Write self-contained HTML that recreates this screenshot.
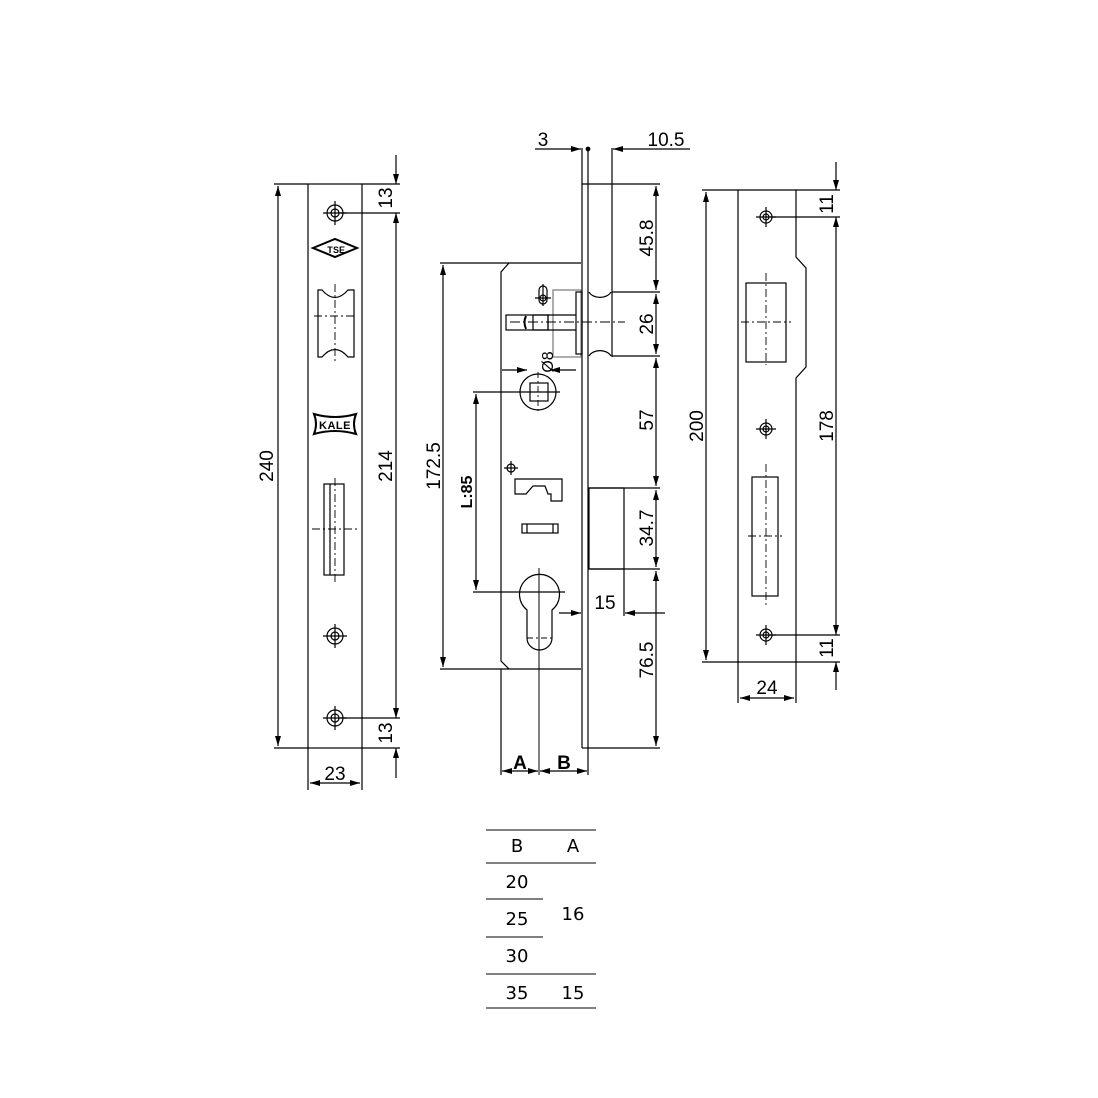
<!DOCTYPE html>
<html><head><meta charset="utf-8"><style>html,body{margin:0;padding:0;background:#fff}svg{display:block}</style></head><body>
<svg width="1098" height="1098" viewBox="0 0 1098 1098" xmlns="http://www.w3.org/2000/svg" font-family="Liberation Sans, sans-serif">
<defs>
<marker id="a" viewBox="0 0 10 6" refX="10" refY="3" markerWidth="10" markerHeight="6" orient="auto-start-reverse" markerUnits="userSpaceOnUse"><path d="M0,0L10,3L0,6z" fill="#000"/></marker>
</defs>
<g stroke="#000" stroke-width="1.2" fill="none">
<rect x="308" y="184" width="54" height="564"/>
<line x1="274" y1="184" x2="308" y2="184"/><line x1="274" y1="748" x2="308" y2="748"/>
<line x1="278" y1="186" x2="278" y2="746" marker-start="url(#a)" marker-end="url(#a)"/>
<line x1="362" y1="184" x2="400" y2="184"/><line x1="340" y1="213" x2="400" y2="213"/>
<line x1="340" y1="718" x2="400" y2="718"/><line x1="362" y1="748" x2="400" y2="748"/>
<line x1="396" y1="155" x2="396" y2="184" marker-end="url(#a)"/>
<line x1="396" y1="213" x2="396" y2="718" marker-start="url(#a)" marker-end="url(#a)"/>
<line x1="396" y1="748" x2="396" y2="778" marker-start="url(#a)"/>
<line x1="308" y1="748" x2="308" y2="790"/><line x1="362" y1="748" x2="362" y2="790"/>
<line x1="310" y1="783" x2="360" y2="783" marker-start="url(#a)" marker-end="url(#a)"/>
<g>
<circle cx="335" cy="213" r="8"/><circle cx="335" cy="213" r="4"/><path d="M323 213h24M335 201v24"/>
<circle cx="335" cy="636" r="8"/><circle cx="335" cy="636" r="4"/><path d="M323 636h24M335 624v24"/>
<circle cx="335" cy="718" r="8"/><circle cx="335" cy="718" r="4"/><path d="M323 718h24M335 706v24"/>
</g>
<path d="M313 248L335 239L357 248L335 257Z" stroke-width="2"/>
<path d="M318 290H322Q335 305 348 290H354V357H348Q335 342 322 357H318Z"/>
<path d="M314 316h42M335 284v80" stroke-dasharray="8 3 2 3" stroke-width="0.9"/>
<path d="M314 414Q335 420 356 414Q352 424 356 434Q335 428 314 434Q318 424 314 414Z" stroke-width="2"/>
<rect x="324" y="484" width="20" height="91"/><line x1="330" y1="484" x2="330" y2="575"/>
<path d="M312 529h46M335 478v104" stroke-dasharray="8 3 2 3" stroke-width="0.9"/>

<line x1="582" y1="148" x2="582" y2="748"/><line x1="588" y1="148" x2="588" y2="748"/>
<line x1="582" y1="748" x2="588" y2="748"/>
<line x1="612" y1="148" x2="612" y2="357"/>
<line x1="582" y1="184" x2="660" y2="184"/>
<line x1="612" y1="292" x2="660" y2="292"/><line x1="612" y1="356" x2="660" y2="356"/>
<line x1="588" y1="488" x2="660" y2="488"/><line x1="588" y1="569" x2="660" y2="569"/>
<line x1="588" y1="748" x2="660" y2="748"/>
<line x1="656" y1="186" x2="656" y2="290" marker-start="url(#a)" marker-end="url(#a)"/>
<line x1="656" y1="294" x2="656" y2="354" marker-start="url(#a)" marker-end="url(#a)"/>
<line x1="656" y1="358" x2="656" y2="486" marker-start="url(#a)" marker-end="url(#a)"/>
<line x1="656" y1="490" x2="656" y2="567" marker-start="url(#a)" marker-end="url(#a)"/>
<line x1="656" y1="571" x2="656" y2="746" marker-start="url(#a)" marker-end="url(#a)"/>
<path d="M589 292A12 9 0 0 0 611 292M589 356A12 9 0 0 1 611 356"/>
<line x1="535" y1="149" x2="581" y2="149" marker-end="url(#a)"/>
<line x1="690" y1="149" x2="613" y2="149" marker-end="url(#a)"/>
<circle cx="588" cy="149" r="1.8" fill="#000"/>
<path d="M581 263H509L501 272V661L509 669H581" />
<line x1="440" y1="263" x2="509" y2="263"/><line x1="440" y1="669" x2="509" y2="669"/>
<line x1="443" y1="265" x2="443" y2="667" marker-start="url(#a)" marker-end="url(#a)"/>
<rect x="553" y="290" width="28" height="67" stroke="#777"/>
<rect x="576" y="292" width="6" height="62"/>
<rect x="506" y="315" width="42" height="15"/><rect x="533" y="315" width="15" height="15"/>
<line x1="548" y1="315" x2="576" y2="315"/><line x1="548" y1="330" x2="576" y2="330"/>
<path d="M526 316Q523 322 526 329" stroke-width="2"/>
<path d="M510 322h115" stroke-dasharray="10 3 2 3" stroke-width="0.9"/>
<rect x="539" y="286" width="8" height="18" rx="4"/><circle cx="543" cy="298" r="3"/><path d="M535 298h16M543 284v22"/>
<circle cx="538" cy="392" r="18"/><rect x="530" y="383" width="18" height="18"/>
<path d="M516 392h44M538 372v40" stroke-dasharray="6 3 2 3" stroke-width="0.9"/>
<line x1="502" y1="370" x2="527" y2="370" marker-end="url(#a)"/>
<line x1="576" y1="370" x2="550" y2="370" marker-end="url(#a)"/>
<line x1="473" y1="392" x2="560" y2="392"/><line x1="473" y1="592" x2="565" y2="592"/>
<line x1="476" y1="394" x2="476" y2="590" marker-start="url(#a)" marker-end="url(#a)"/>
<circle cx="511" cy="468" r="4"/><path d="M504 468h14M511 461v14"/>
<path d="M515 479H562V501H551V494H548L545 486H533L526 494H515Z"/>
<rect x="522" y="524" width="36" height="9"/><line x1="527" y1="524" x2="527" y2="533"/><line x1="553" y1="524" x2="553" y2="533"/>
<path d="M527 610A20 20 0 1 1 552 610V638A12.5 12 0 0 1 527 638Z"/>
<path d="M527 638h25M515 592h46" stroke-dasharray="6 3 2 3" stroke-width="0.9"/>
<line x1="539" y1="568" x2="539" y2="775" stroke-width="1"/>
<rect x="589" y="488" width="35" height="81"/>
<line x1="624" y1="569" x2="624" y2="616"/>
<line x1="559" y1="613" x2="581" y2="613" marker-end="url(#a)"/>
<line x1="665" y1="613" x2="625" y2="613" marker-end="url(#a)"/>
<line x1="501" y1="669" x2="501" y2="775"/><line x1="588" y1="748" x2="588" y2="775"/>
<line x1="502" y1="771" x2="538" y2="771" marker-start="url(#a)" marker-end="url(#a)"/>
<line x1="540" y1="771" x2="587" y2="771" marker-start="url(#a)" marker-end="url(#a)"/>

<path d="M738 190H796V257L806 268V367L796 378V662H738Z"/>
<line x1="702" y1="190" x2="738" y2="190"/><line x1="702" y1="662" x2="738" y2="662"/>
<line x1="706" y1="192" x2="706" y2="660" marker-start="url(#a)" marker-end="url(#a)"/>
<line x1="796" y1="190" x2="840" y2="190"/><line x1="770" y1="217" x2="840" y2="217"/>
<line x1="770" y1="635" x2="840" y2="635"/><line x1="796" y1="662" x2="840" y2="662"/>
<line x1="836" y1="162" x2="836" y2="190" marker-end="url(#a)"/>
<line x1="836" y1="217" x2="836" y2="635" marker-start="url(#a)" marker-end="url(#a)"/>
<line x1="836" y1="662" x2="836" y2="690" marker-start="url(#a)"/>
<line x1="738" y1="662" x2="738" y2="703"/><line x1="796" y1="662" x2="796" y2="703"/>
<line x1="740" y1="698" x2="794" y2="698" marker-start="url(#a)" marker-end="url(#a)"/>
<circle cx="766" cy="217" r="6"/><circle cx="766" cy="217" r="3"/><path d="M756 217h20M766 207v20"/>
<circle cx="766" cy="429" r="6"/><circle cx="766" cy="429" r="3"/><path d="M756 429h20M766 419v20"/>
<circle cx="766" cy="635" r="6"/><circle cx="766" cy="635" r="3"/><path d="M756 635h20M766 625v20"/>
<rect x="746" y="283" width="40" height="79"/>
<path d="M741 322h50M766 273v92" stroke-dasharray="8 3 2 3" stroke-width="0.9"/>
<rect x="752" y="477" width="26" height="119"/>
<path d="M748 536h34M766 464v144" stroke-dasharray="8 3 2 3" stroke-width="0.9"/>

<g stroke-width="1">
<line x1="486" y1="830" x2="596" y2="830"/><line x1="486" y1="863" x2="596" y2="863"/>
<line x1="486" y1="899" x2="543" y2="899"/><line x1="486" y1="937" x2="543" y2="937"/>
<line x1="486" y1="974" x2="596" y2="974"/><line x1="486" y1="1008" x2="596" y2="1008"/>
</g>
</g>

<g fill="#000" font-size="19">
<text transform="translate(273,466) rotate(-90)" text-anchor="middle">240</text>
<text transform="translate(392,198) rotate(-90)" text-anchor="middle">13</text>
<text transform="translate(392,466) rotate(-90)" text-anchor="middle">214</text>
<text transform="translate(392,733) rotate(-90)" text-anchor="middle">13</text>
<text x="335" y="780" text-anchor="middle">23</text>
<text x="330" y="253" font-size="9" font-weight="bold" text-anchor="middle">T</text><text x="336" y="253" font-size="9" font-weight="bold" text-anchor="middle">S</text><text x="342" y="253" font-size="9" font-weight="bold" text-anchor="middle">E</text>
<text x="335" y="429" font-size="11" font-weight="bold" text-anchor="middle" letter-spacing="0.5">KALE</text>
<text x="543" y="146" text-anchor="middle">3</text>
<text x="666" y="146" text-anchor="middle">10.5</text>
<text transform="translate(653,238) rotate(-90)" text-anchor="middle">45.8</text>
<text transform="translate(653,324) rotate(-90)" text-anchor="middle">26</text>
<text transform="translate(653,420) rotate(-90)" text-anchor="middle">57</text>
<text transform="translate(653,528) rotate(-90)" text-anchor="middle">34.7</text>
<text transform="translate(653,660) rotate(-90)" text-anchor="middle">76.5</text>
<text transform="translate(440,466) rotate(-90)" text-anchor="middle">172.5</text>
<text transform="translate(472,492) rotate(-90)" text-anchor="middle" font-weight="bold" font-size="16">L:85</text>
<text transform="translate(553,362) rotate(-90)" text-anchor="middle" font-size="16">Ø8</text>
<text x="605" y="609" text-anchor="middle">15</text>
<text x="520" y="769" text-anchor="middle" font-weight="bold">A</text>
<text x="564" y="769" text-anchor="middle" font-weight="bold">B</text>
<text transform="translate(703,426) rotate(-90)" text-anchor="middle">200</text>
<text transform="translate(833,204) rotate(-90)" text-anchor="middle">11</text>
<text transform="translate(833,426) rotate(-90)" text-anchor="middle">178</text>
<text transform="translate(833,648) rotate(-90)" text-anchor="middle">11</text>
<text x="767" y="694" text-anchor="middle">24</text>
</g>
<g fill="#000" font-size="18" font-family="DejaVu Sans, sans-serif" text-anchor="middle">
<text x="517" y="852">B</text><text x="573" y="852">A</text>
<text x="517" y="888">20</text><text x="517" y="925">25</text><text x="573" y="920">16</text>
<text x="517" y="962">30</text><text x="517" y="999">35</text><text x="573" y="999">15</text>
</g>
</svg>
</body></html>
